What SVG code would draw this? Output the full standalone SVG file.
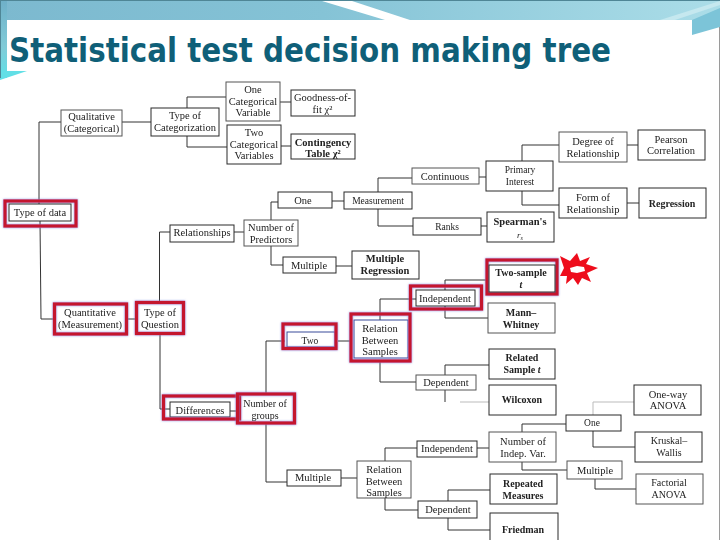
<svg xmlns="http://www.w3.org/2000/svg" width="720" height="540" viewBox="0 0 720 540">
<style>
.b{fill:#fff;stroke:#2a2a2a;stroke-width:1}
.g{fill:#fff;stroke:#555;stroke-width:1}
.r{fill:none;stroke:#c4142e;stroke-width:3.4;filter:url(#glow)}
text{font-family:"Liberation Serif","Times New Roman",serif;font-size:10.5px;fill:#222;text-anchor:middle}
.s{font-weight:bold}
#conn path{fill:none;stroke:#333;stroke-width:1}
</style>
<defs>
<linearGradient id="bandL" x1="0" x2="1" y1="0" y2="0"><stop offset="0" stop-color="#7cb9cf"/><stop offset="0.45" stop-color="#85c3d6"/><stop offset="1" stop-color="#abdde8"/></linearGradient>
<linearGradient id="left" x1="0" x2="0" y1="0" y2="1"><stop offset="0" stop-color="#6fb0c8"/><stop offset="0.6" stop-color="#80cbd8"/><stop offset="1" stop-color="#5fe0e6"/></linearGradient>
<filter id="glow" x="-20%" y="-30%" width="140%" height="160%"><feDropShadow dx="0" dy="0" stdDeviation="1.2" flood-color="#6f7fe0" flood-opacity="0.8"/></filter>
<filter id="soft"><feGaussianBlur stdDeviation="0.35"/></filter>
</defs>
<rect width="720" height="540" fill="#fff"/>
<g id="background">
<rect width="720" height="20" fill="url(#bandL)"/>
<rect width="7" height="78" fill="url(#left)"/>
<polygon points="0,80 0,70 7,70 7,71 27,71" fill="#62dfe6"/>
<polygon points="322,1 352,1 410,20 385,20" fill="#fff"/>
<polygon points="692,20 720,8 720,27 692,35" fill="#7cc4d8"/>
<polygon points="660,20 720,1 720,5 675,20" fill="#c5e8ef"/>
<rect width="720" height="1" fill="#4f8696"/>
<rect x="0" width="1" height="78" fill="#4f8696"/>
<rect x="719" y="27" width="1" height="513" fill="#9a9a9a"/>
</g>
<text x="9" y="62" textLength="602" lengthAdjust="spacingAndGlyphs" style="font-family:'DejaVu Sans',sans-serif;font-size:34px;font-weight:bold;fill:#0f5f78;text-anchor:start">Statistical test decision making tree</text>
<g filter="url(#soft)">
<g id="conn">
<path d="M61,122H39V204M40,221L41,319H54M122,122H151M187,108V97H226M187,136V147H227M280,102H291M281,146H291M127,319H136M159.500,302V232H170M160,333V409H170M234,232H244M271,220V202H278M271,246V265H283M332,201H344M336,266H352M378,192V178H412M378,209V226H413M479,177H486M522,161V145H559M522,191V205H559M627,145H638M627,203H639M481,226H487M230,411H240M266,393V341H285M266,424V482H287M338,341H350M341,478H357M380,320V299H416M380,362V382H416M445,290V280H487M445,306V318H488M445,375V365H489M445,390V402M477,448H489M385,461V448H417M385,498V510H418M522,432V424H566M522,462V470H567M593,431V447H635M595,479V489H636M448,501V490H490M448,518V530H490"/>
<path d="M593,415V402H634M460,402H489" style="stroke:#bbb"/>
</g>
<g id="n-qualitative"><rect class="g" x="61" y="110" width="61" height="26"/><text x="91.500" y="120">Qualitative<tspan x="91.500" dy="11.500">(Categorical)</tspan></text></g>
<g id="n-typecat"><rect class="b" x="151" y="108" width="68" height="28"/><text x="185" y="119">Type of<tspan x="185" dy="11.500">Categorization</tspan></text></g>
<g id="n-onecat"><rect class="g" x="226" y="82" width="54" height="39"/><text x="253" y="93">One<tspan x="253" dy="11.500">Categorical</tspan><tspan x="253" dy="11.500">Variable</tspan></text></g>
<g id="n-twocat"><rect class="b" x="227" y="125" width="54" height="39"/><text x="254" y="136">Two<tspan x="254" dy="11.500">Categorical</tspan><tspan x="254" dy="11.500">Variables</tspan></text></g>
<g id="n-goodness"><rect class="b" x="291" y="90" width="64" height="26"/><text x="322.500" y="101">Goodness-of-<tspan x="322.500" dy="12">fit χ²</tspan></text></g>
<g id="n-contingency"><rect class="b" x="291" y="134" width="64" height="25"/><text x="323" y="146" style="font-weight:600">Contingency<tspan x="323" dy="11">Table χ²</tspan></text></g>
<g id="n-typedata"><rect class="r" x="5" y="201" width="71" height="25"/><rect class="b" x="9" y="204" width="62" height="17"/><text x="40" y="216">Type of data</text></g>
<g id="n-one"><rect class="b" x="278" y="192" width="54" height="16"/><text x="303" y="204">One</text></g>
<g id="n-measurement"><rect class="b" x="344" y="192" width="68" height="17"/><text x="378" y="204" style="font-size:9.500px">Measurement</text></g>
<g id="n-continuous"><rect class="g" x="412" y="168" width="67" height="16"/><text x="445" y="180">Continuous</text></g>
<g id="n-ranks"><rect class="b" x="413" y="218" width="68" height="17"/><text x="447" y="230" style="font-size:9.500px">Ranks</text></g>
<g id="n-primary"><rect class="b" x="486" y="161" width="67" height="30"/><text x="520" y="173" style="font-size:9.500px">Primary<tspan x="520" dy="12">Interest</tspan></text></g>
<g id="n-spearman"><rect class="b" x="487" y="212" width="67" height="30"/><text class="s" x="520" y="225">Spearman's</text><text x="520" y="238" style="font-style:italic;font-size:9px">r<tspan dy="2" style="font-size:6px">s</tspan></text></g>
<g id="n-degree"><rect class="g" x="559" y="132" width="68" height="30"/><text x="593" y="145">Degree of<tspan x="593" dy="11.500">Relationship</tspan></text></g>
<g id="n-pearson"><rect class="b" x="638" y="130" width="67" height="30"/><text x="671" y="143">Pearson<tspan x="671" dy="11">Correlation</tspan></text></g>
<g id="n-form"><rect class="b" x="559" y="188" width="68" height="30"/><text x="593" y="201">Form of<tspan x="593" dy="11.500">Relationship</tspan></text></g>
<g id="n-regression"><rect class="b" x="639" y="188" width="67" height="30"/><text class="s" x="672" y="207" style="font-size:10px">Regression</text></g>
<g id="n-relationships"><rect class="b" x="170" y="225" width="64" height="17"/><text x="202" y="236">Relationships</text></g>
<g id="n-numpred"><rect class="g" x="244" y="220" width="54" height="26"/><text x="271" y="231">Number of<tspan x="271" dy="12">Predictors</tspan></text></g>
<g id="n-multiple1"><rect class="b" x="283" y="257" width="53" height="16"/><text x="309" y="269">Multiple</text></g>
<g id="n-multreg"><rect class="b" x="352" y="251" width="67" height="28"/><text class="s" x="385" y="262">Multiple<tspan x="385" dy="11.500">Regression</tspan></text></g>
<g id="n-twosample"><rect class="r" x="487" y="260" width="70" height="34"/><rect class="b" x="489" y="265" width="66" height="27"/><text x="521" y="276" class="s" style="font-size:10px">Two-sample<tspan x="521" dy="11.500" style="font-style:italic">t</tspan></text></g>
<g id="n-star"><polygon points="560,256 570,261 577,253 580,261 590,257 586,264 598,268 587,273 591,282 582,278 578,285 573,278 566,284 567,276 560,276 564,268" fill="#ee0f1d"/><polygon points="570,268 577,266 584,267 585,271 577,273 571,272" fill="#fff"/></g>
<g id="n-independent1"><rect class="r" x="410.500" y="286" width="71" height="23"/><rect class="b" x="416" y="290" width="59" height="16"/><text x="445" y="302">Independent</text></g>
<g id="n-mann"><rect class="g" x="488" y="303" width="67" height="30"/><text x="521" y="316" class="s" style="font-size:10px">Mann–<tspan x="521" dy="11.500">Whitney</tspan></text></g>
<g id="n-relation1"><rect class="b" x="354" y="320" width="54" height="38" style="stroke:#3a4a9a"/><rect class="r" x="351" y="314" width="59" height="47"/><text x="380" y="332">Relation<tspan x="380" dy="11.500">Between</tspan><tspan x="380" dy="11.500">Samples</tspan></text></g>
<g id="n-related"><rect class="b" x="489" y="349" width="66" height="30"/><text x="522" y="361" class="s" style="font-size:10px">Related<tspan x="522" dy="11.500">Sample <tspan style="font-style:italic">t</tspan></tspan></text></g>
<g id="n-dependent1"><rect class="g" x="416" y="375" width="60" height="15"/><text x="446" y="386">Dependent</text></g>
<g id="n-wilcoxon"><rect class="b" x="489" y="385" width="67" height="30"/><text x="522" y="403" class="s" style="font-size:10px">Wilcoxon</text></g>
<g id="n-two"><rect class="b" x="287" y="332" width="48" height="15" style="stroke:#3a4a9a"/><rect class="r" x="283" y="324" width="53" height="24.500"/><text x="310" y="344" style="font-size:9.500px">Two</text></g>
<g id="n-quant"><rect class="r" x="54.500" y="304" width="72" height="30"/><text x="90" y="316">Quantitative<tspan x="90" dy="12">(Measurement)</tspan></text></g>
<g id="n-typeq"><rect class="r" x="136.500" y="302.500" width="47" height="31"/><text x="160" y="316">Type of<tspan x="160" dy="12">Question</tspan></text></g>
<g id="n-diff"><rect class="b" x="170" y="402" width="60" height="15"/><rect class="r" x="163.500" y="396" width="76" height="23"/><text x="200" y="414">Differences</text></g>
<g id="n-numgroups"><rect class="r" x="237.500" y="394" width="57" height="29"/><text x="265" y="407" style="font-size:10px">Number of<tspan x="265" dy="12">groups</tspan></text></g>
<g id="n-multiple2"><rect class="b" x="287" y="470" width="54" height="16"/><text x="313" y="481">Multiple</text></g>
<g id="n-relation2"><rect class="g" x="357" y="461" width="54" height="37"/><text x="384" y="473">Relation<tspan x="384" dy="11.500">Between</tspan><tspan x="384" dy="11.500">Samples</tspan></text></g>
<g id="n-independent2"><rect class="b" x="417" y="441" width="60" height="16"/><text x="447" y="452">Independent</text></g>
<g id="n-dependent2"><rect class="b" x="418" y="501" width="59" height="17"/><text x="448" y="513">Dependent</text></g>
<g id="n-numindep"><rect class="g" x="489" y="432" width="67" height="30"/><text x="523" y="445">Number of<tspan x="523" dy="12">Indep. Var.</tspan></text></g>
<g id="n-repeated"><rect class="b" x="490" y="474" width="67" height="30"/><text x="523" y="487" class="s" style="font-size:10px">Repeated<tspan x="523" dy="11.500">Measures</tspan></text></g>
<g id="n-friedman"><rect class="b" x="490" y="513" width="68" height="30"/><text x="523" y="533" class="s" style="font-size:10px">Friedman</text></g>
<g id="n-one2"><rect class="b" x="566" y="415" width="55" height="16"/><text x="592" y="426" style="font-size:9.500px">One</text></g>
<g id="n-multiple3"><rect class="g" x="567" y="461" width="55" height="18"/><text x="595" y="474">Multiple</text></g>
<g id="n-oneway"><rect class="b" x="634" y="385" width="67" height="30"/><text x="668" y="398">One-way<tspan x="668" dy="11">ANOVA</tspan></text></g>
<g id="n-kruskal"><rect class="b" x="635" y="432" width="67" height="30"/><text x="669" y="444" style="font-size:10px">Kruskal–<tspan x="669" dy="12">Wallis</tspan></text></g>
<g id="n-factorial"><rect class="g" x="636" y="474" width="67" height="30"/><text x="669" y="486" style="font-size:10px">Factorial<tspan x="669" dy="12">ANOVA</tspan></text></g>
</g>
</svg>
